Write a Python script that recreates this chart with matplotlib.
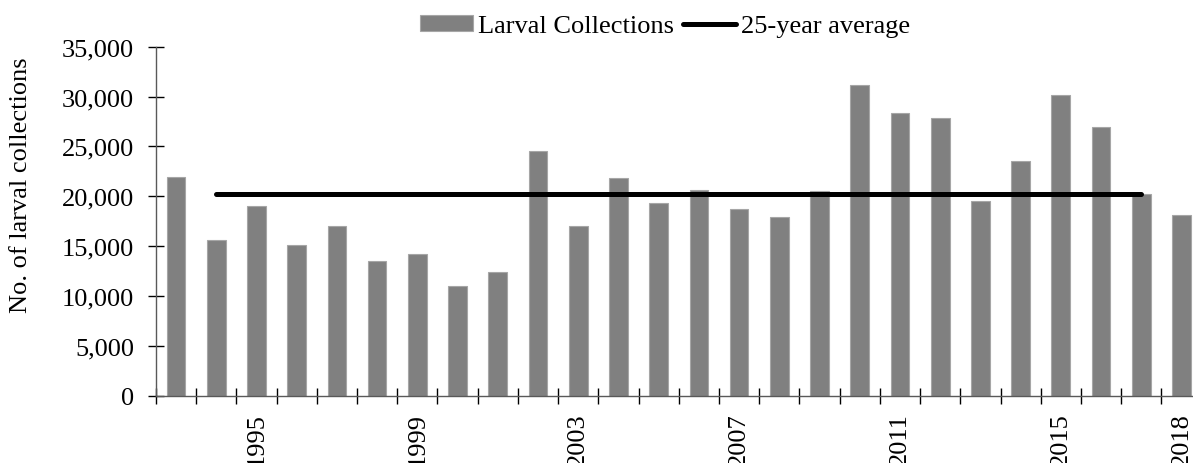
import numpy as np
import matplotlib.pyplot as plt

years = list(range(1993, 2019))
collections = [21900, 15600, 19000, 15100, 17000, 13500, 14250, 11000, 12450, 24500,
               17000, 21800, 19300, 20600, 18700, 17950, 20500, 31200, 28400, 27900,
               19550, 23550, 30200, 26900, 20250, 18100]
avg_years = [1994, 2017]
avg_value = 20200
label_years = [1995, 1999, 2003, 2007, 2011, 2015, 2018]

plt.rcParams['font.family'] = ['Liberation Serif', 'DejaVu Serif']
FS = 19

fig = plt.figure(figsize=(11.93, 4.64), dpi=100)
# axis runs a bit past the right edge of the picture, as in the original
ax = fig.add_axes([0.1307, 0.1450, 0.8765, 0.7522])

bars = ax.bar(years, collections, width=0.465, color='#808080', edgecolor='#a6a6a6',
              linewidth=0.8, label='Larval Collections', zorder=2)
line, = ax.plot(avg_years, [avg_value, avg_value], color='black', linewidth=3.6,
                solid_capstyle='round', label='25-year average', zorder=3)

ax.set_xlim(years[0] - 0.5, years[-1] + 0.5)
ax.set_ylim(0, 35000)
ax.set_yticks(np.arange(0, 35001, 5000))
ax.set_yticklabels([f'{v:,}' for v in range(0, 35001, 5000)], fontsize=FS)

# boundary ticks between categories, labels on selected years
ax.set_xticks(np.arange(years[0] - 0.5, years[-1] + 1.0, 1.0))
ax.tick_params(axis='x', which='major', labelbottom=False, direction='inout',
               length=11.5, width=1, color='black')
ax.set_xticks(label_years, minor=True)
ax.set_xticklabels([str(y) for y in label_years], minor=True, rotation=90, fontsize=FS)
ax.tick_params(axis='x', which='minor', length=0, pad=12)
ax.tick_params(axis='y', direction='inout', length=11.5, width=1, color='black', pad=10)

for side in ['top', 'right']:
    ax.spines[side].set_visible(False)
for side in ['left', 'bottom']:
    ax.spines[side].set_color('#595959')
    ax.spines[side].set_linewidth(1)

ax.set_ylabel('No. of larval collections', fontsize=FS)
ax.yaxis.set_label_coords(-0.1185, 0.607)

fig.legend([bars, line], ['Larval Collections', '25-year average'],
           loc='center left', bbox_to_anchor=(420 / 1193, 1 - 27 / 464), ncol=2,
           frameon=False, fontsize=FS, handlelength=2.0, handleheight=0.6,
           handletextpad=0.2, columnspacing=0.35, borderpad=0, borderaxespad=0)

fig.savefig('out.png', dpi=100)
